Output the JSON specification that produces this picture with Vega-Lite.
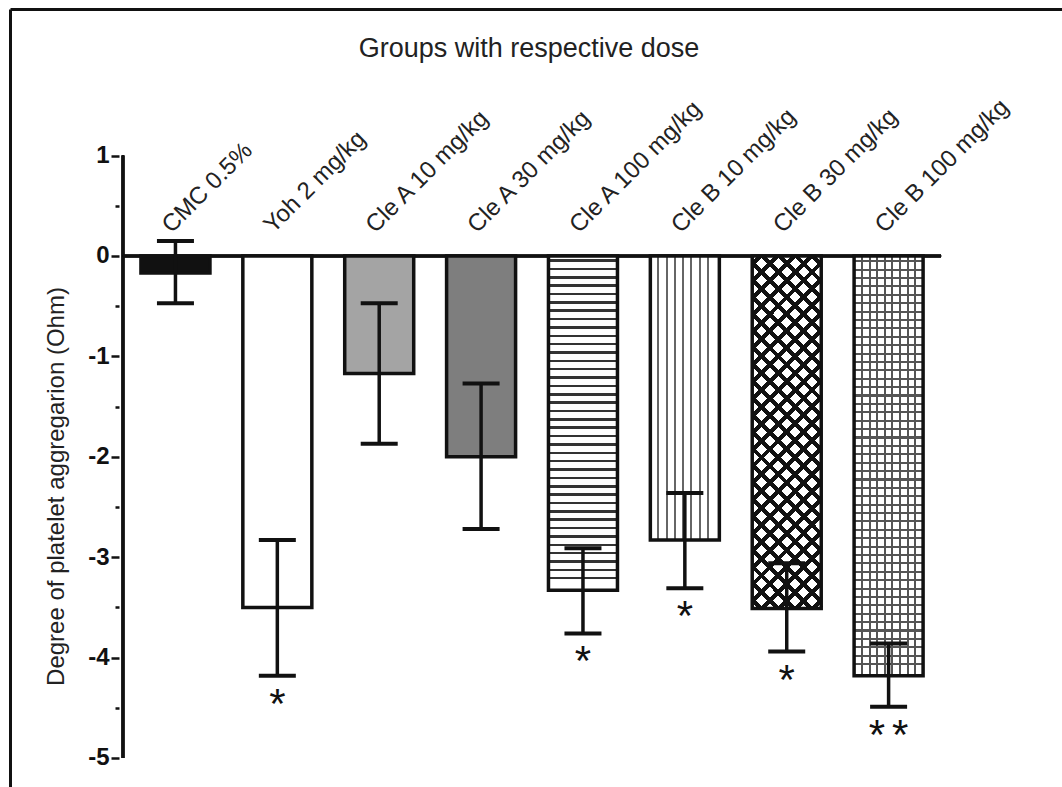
{
  "$schema": "https://vega.github.io/schema/vega-lite/v6.json",
  "width": 1052,
  "height": 778,
  "padding": {"left": 10, "top": 9, "right": 0, "bottom": 0},
  "autosize": {"type": "none"},
  "background": "white",
  "config": {"view": {"stroke": null}, "font": "Liberation Sans", "axis": {"grid": false}},
  "title": {"text": "Groups with respective dose", "fontSize": 27, "fontWeight": "normal", "color": "#222", "offset": -54, "anchor": "middle", "dx": -7, "font": "Liberation Sans"},
  "data": {"values": [
    {"group": "CMC 0.5%", "idx": 1, "mean": -0.17, "hi": 0.15, "lo": -0.47, "sig": ""},
    {"group": "Yoh 2 mg/kg", "idx": 2, "mean": -3.5, "hi": -2.83, "lo": -4.18, "sig": "*"},
    {"group": "Cle A 10 mg/kg", "idx": 3, "mean": -1.17, "hi": -0.47, "lo": -1.87, "sig": ""},
    {"group": "Cle A 30 mg/kg", "idx": 4, "mean": -2.0, "hi": -1.27, "lo": -2.72, "sig": ""},
    {"group": "Cle A 100 mg/kg", "idx": 5, "mean": -3.33, "hi": -2.91, "lo": -3.76, "sig": "*"},
    {"group": "Cle B 10 mg/kg", "idx": 6, "mean": -2.83, "hi": -2.36, "lo": -3.31, "sig": "*"},
    {"group": "Cle B 30 mg/kg", "idx": 7, "mean": -3.51, "hi": -3.06, "lo": -3.94, "sig": "*"},
    {"group": "Cle B 100 mg/kg", "idx": 8, "mean": -4.18, "hi": -3.86, "lo": -4.49, "sig": "*\u2006*"}
  ]},
  "resolve": {"axis": {"x": "independent", "y": "independent"}},
  "layer": [
    {
      "mark": {"type": "rule", "strokeWidth": 2.5, "color": "#111"},
      "encoding": {
        "x": {"datum": 0.485, "type": "quantitative", "scale": {"domain": [-0.575, 9.653], "nice": false, "zero": false},
              "axis": {"orient": "top", "domain": true, "domainWidth": 3, "domainColor": "#111", "ticks": false, "labels": false, "title": null, "grid": false}},
        "y": {"datum": 1, "type": "quantitative", "scale": {"domain": [-5.289, 2.46], "nice": false, "zero": false},
              "axis": {"orient": "left", "offset": -109, "domain": false, "grid": false,
                       "values": [-5, -4.5, -4, -3.5, -3, -2.5, -2, -1.5, -1, -0.5, 0, 0.5, 1],
                       "labelExpr": "datum.value % 1 == 0 ? '' + datum.value : ''",
                       "ticks": true, "tickColor": "#111", "tickWidth": 2.5,
                       "tickSize": {"condition": {"test": "datum.value % 1 == 0", "value": 8}, "value": 4},
                       "labelFontSize": 24, "labelFontWeight": "bold", "labelColor": "#111", "labelPadding": 2, "labelFont": "Liberation Sans",
                       "title": "Degree of platelet aggregarion (Ohm)", "titleFontSize": 24, "titleFontWeight": "normal", "titleColor": "#222", "titleFont": "Liberation Sans",
                       "titlePadding": 19, "titleY": 477}},
        "y2": {"datum": -5}
      }
    },
    {
      "mark": {"type": "rule", "strokeWidth": 2.5, "color": "#111"},
      "encoding": {
        "x": {"datum": 0.485, "type": "quantitative", "scale": {"domain": [-0.575, 9.653], "nice": false, "zero": false}, "axis": null},
        "x2": {"datum": 8.515},
        "y": {"datum": 0, "type": "quantitative", "scale": {"domain": [-5.289, 2.46], "nice": false, "zero": false},
              "axis": {"orient": "left", "offset": 0, "domain": true, "domainWidth": 3, "domainColor": "#111", "ticks": false, "labels": false, "title": null, "grid": false}}
      }
    },
    {
      "mark": {"type": "bar", "orient": "vertical", "width": 69, "strokeWidth": 0},
      "encoding": {
        "x": {"field": "idx", "type": "quantitative", "scale": {"domain": [-0.575, 9.653], "nice": false, "zero": false}, "axis": null},
        "y": {"field": "mean", "type": "quantitative", "scale": {"domain": [-5.289, 2.46], "nice": false, "zero": false}, "axis": null},
        "y2": {"datum": 0},
        "fill": {"field": "group", "type": "nominal", "legend": null,
                 "scale": {"domain": ["CMC 0.5%", "Yoh 2 mg/kg", "Cle A 10 mg/kg", "Cle A 30 mg/kg", "Cle A 100 mg/kg", "Cle B 10 mg/kg", "Cle B 30 mg/kg", "Cle B 100 mg/kg"],
                           "range": ["#111111", "#ffffff", "#a4a4a4", "#7e7e7e", "#ffffff", "#ffffff", "#ffffff", "#ffffff"]}}
      }
    },
    {
      "transform": [{"filter": "datum.idx == 5"}],
      "mark": {"type": "bar", "orient": "vertical", "width": 69, "strokeWidth": 0,
               "fill": {"gradient": "linear", "x1": 0, "y1": 0, "x2": 0, "y2": 1, "stops": [
                 {"offset": 0, "color": "#fff"},
                 {"offset": 0.01, "color": "#fff"}, {"offset": 0.01, "color": "#333"}, {"offset": 0.0175, "color": "#333"}, {"offset": 0.0175, "color": "#fff"},
                 {"offset": 0.035, "color": "#fff"}, {"offset": 0.035, "color": "#333"}, {"offset": 0.0425, "color": "#333"}, {"offset": 0.0425, "color": "#fff"},
                 {"offset": 0.06, "color": "#fff"}, {"offset": 0.06, "color": "#333"}, {"offset": 0.0675, "color": "#333"}, {"offset": 0.0675, "color": "#fff"},
                 {"offset": 0.085, "color": "#fff"}, {"offset": 0.085, "color": "#333"}, {"offset": 0.0925, "color": "#333"}, {"offset": 0.0925, "color": "#fff"},
                 {"offset": 0.11, "color": "#fff"}, {"offset": 0.11, "color": "#333"}, {"offset": 0.1175, "color": "#333"}, {"offset": 0.1175, "color": "#fff"},
                 {"offset": 0.135, "color": "#fff"}, {"offset": 0.135, "color": "#333"}, {"offset": 0.1425, "color": "#333"}, {"offset": 0.1425, "color": "#fff"},
                 {"offset": 0.16, "color": "#fff"}, {"offset": 0.16, "color": "#333"}, {"offset": 0.1675, "color": "#333"}, {"offset": 0.1675, "color": "#fff"},
                 {"offset": 0.185, "color": "#fff"}, {"offset": 0.185, "color": "#333"}, {"offset": 0.1925, "color": "#333"}, {"offset": 0.1925, "color": "#fff"},
                 {"offset": 0.21, "color": "#fff"}, {"offset": 0.21, "color": "#333"}, {"offset": 0.2175, "color": "#333"}, {"offset": 0.2175, "color": "#fff"},
                 {"offset": 0.235, "color": "#fff"}, {"offset": 0.235, "color": "#333"}, {"offset": 0.2425, "color": "#333"}, {"offset": 0.2425, "color": "#fff"},
                 {"offset": 0.26, "color": "#fff"}, {"offset": 0.26, "color": "#333"}, {"offset": 0.2675, "color": "#333"}, {"offset": 0.2675, "color": "#fff"},
                 {"offset": 0.285, "color": "#fff"}, {"offset": 0.285, "color": "#333"}, {"offset": 0.2925, "color": "#333"}, {"offset": 0.2925, "color": "#fff"},
                 {"offset": 0.31, "color": "#fff"}, {"offset": 0.31, "color": "#333"}, {"offset": 0.3175, "color": "#333"}, {"offset": 0.3175, "color": "#fff"},
                 {"offset": 0.335, "color": "#fff"}, {"offset": 0.335, "color": "#333"}, {"offset": 0.3425, "color": "#333"}, {"offset": 0.3425, "color": "#fff"},
                 {"offset": 0.36, "color": "#fff"}, {"offset": 0.36, "color": "#333"}, {"offset": 0.3675, "color": "#333"}, {"offset": 0.3675, "color": "#fff"},
                 {"offset": 0.385, "color": "#fff"}, {"offset": 0.385, "color": "#333"}, {"offset": 0.3925, "color": "#333"}, {"offset": 0.3925, "color": "#fff"},
                 {"offset": 0.41, "color": "#fff"}, {"offset": 0.41, "color": "#333"}, {"offset": 0.4175, "color": "#333"}, {"offset": 0.4175, "color": "#fff"},
                 {"offset": 0.435, "color": "#fff"}, {"offset": 0.435, "color": "#333"}, {"offset": 0.4425, "color": "#333"}, {"offset": 0.4425, "color": "#fff"},
                 {"offset": 0.46, "color": "#fff"}, {"offset": 0.46, "color": "#333"}, {"offset": 0.4675, "color": "#333"}, {"offset": 0.4675, "color": "#fff"},
                 {"offset": 0.485, "color": "#fff"}, {"offset": 0.485, "color": "#333"}, {"offset": 0.4925, "color": "#333"}, {"offset": 0.4925, "color": "#fff"},
                 {"offset": 0.51, "color": "#fff"}, {"offset": 0.51, "color": "#333"}, {"offset": 0.5175, "color": "#333"}, {"offset": 0.5175, "color": "#fff"},
                 {"offset": 0.535, "color": "#fff"}, {"offset": 0.535, "color": "#333"}, {"offset": 0.5425, "color": "#333"}, {"offset": 0.5425, "color": "#fff"},
                 {"offset": 0.56, "color": "#fff"}, {"offset": 0.56, "color": "#333"}, {"offset": 0.5675, "color": "#333"}, {"offset": 0.5675, "color": "#fff"},
                 {"offset": 0.585, "color": "#fff"}, {"offset": 0.585, "color": "#333"}, {"offset": 0.5925, "color": "#333"}, {"offset": 0.5925, "color": "#fff"},
                 {"offset": 0.61, "color": "#fff"}, {"offset": 0.61, "color": "#333"}, {"offset": 0.6175, "color": "#333"}, {"offset": 0.6175, "color": "#fff"},
                 {"offset": 0.635, "color": "#fff"}, {"offset": 0.635, "color": "#333"}, {"offset": 0.6425, "color": "#333"}, {"offset": 0.6425, "color": "#fff"},
                 {"offset": 0.66, "color": "#fff"}, {"offset": 0.66, "color": "#333"}, {"offset": 0.6675, "color": "#333"}, {"offset": 0.6675, "color": "#fff"},
                 {"offset": 0.685, "color": "#fff"}, {"offset": 0.685, "color": "#333"}, {"offset": 0.6925, "color": "#333"}, {"offset": 0.6925, "color": "#fff"},
                 {"offset": 0.71, "color": "#fff"}, {"offset": 0.71, "color": "#333"}, {"offset": 0.7175, "color": "#333"}, {"offset": 0.7175, "color": "#fff"},
                 {"offset": 0.735, "color": "#fff"}, {"offset": 0.735, "color": "#333"}, {"offset": 0.7425, "color": "#333"}, {"offset": 0.7425, "color": "#fff"},
                 {"offset": 0.76, "color": "#fff"}, {"offset": 0.76, "color": "#333"}, {"offset": 0.7675, "color": "#333"}, {"offset": 0.7675, "color": "#fff"},
                 {"offset": 0.785, "color": "#fff"}, {"offset": 0.785, "color": "#333"}, {"offset": 0.7925, "color": "#333"}, {"offset": 0.7925, "color": "#fff"},
                 {"offset": 0.81, "color": "#fff"}, {"offset": 0.81, "color": "#333"}, {"offset": 0.8175, "color": "#333"}, {"offset": 0.8175, "color": "#fff"},
                 {"offset": 0.835, "color": "#fff"}, {"offset": 0.835, "color": "#333"}, {"offset": 0.8425, "color": "#333"}, {"offset": 0.8425, "color": "#fff"},
                 {"offset": 0.86, "color": "#fff"}, {"offset": 0.86, "color": "#333"}, {"offset": 0.8675, "color": "#333"}, {"offset": 0.8675, "color": "#fff"},
                 {"offset": 0.885, "color": "#fff"}, {"offset": 0.885, "color": "#333"}, {"offset": 0.8925, "color": "#333"}, {"offset": 0.8925, "color": "#fff"},
                 {"offset": 0.91, "color": "#fff"}, {"offset": 0.91, "color": "#333"}, {"offset": 0.9175, "color": "#333"}, {"offset": 0.9175, "color": "#fff"},
                 {"offset": 0.935, "color": "#fff"}, {"offset": 0.935, "color": "#333"}, {"offset": 0.9425, "color": "#333"}, {"offset": 0.9425, "color": "#fff"},
                 {"offset": 0.96, "color": "#fff"}, {"offset": 0.96, "color": "#333"}, {"offset": 0.9675, "color": "#333"}, {"offset": 0.9675, "color": "#fff"},
                 {"offset": 1, "color": "#fff"}
               ]}},
      "encoding": {
        "x": {"field": "idx", "type": "quantitative", "scale": {"domain": [-0.575, 9.653], "nice": false, "zero": false}, "axis": null},
        "y": {"field": "mean", "type": "quantitative", "scale": {"domain": [-5.289, 2.46], "nice": false, "zero": false}, "axis": null},
        "y2": {"datum": 0}
      }
    },
    {
      "transform": [{"filter": "datum.idx == 6"}],
      "mark": {"type": "bar", "orient": "vertical", "width": 69, "strokeWidth": 0,
               "fill": {"gradient": "linear", "x1": 0, "y1": 0, "x2": 1, "y2": 0, "stops": [
                 {"offset": 0, "color": "#fff"},
                 {"offset": 0.1, "color": "#fff"}, {"offset": 0.1, "color": "#666"}, {"offset": 0.13, "color": "#666"}, {"offset": 0.13, "color": "#fff"},
                 {"offset": 0.22, "color": "#fff"}, {"offset": 0.22, "color": "#666"}, {"offset": 0.25, "color": "#666"}, {"offset": 0.25, "color": "#fff"},
                 {"offset": 0.34, "color": "#fff"}, {"offset": 0.34, "color": "#666"}, {"offset": 0.37, "color": "#666"}, {"offset": 0.37, "color": "#fff"},
                 {"offset": 0.46, "color": "#fff"}, {"offset": 0.46, "color": "#666"}, {"offset": 0.49, "color": "#666"}, {"offset": 0.49, "color": "#fff"},
                 {"offset": 0.58, "color": "#fff"}, {"offset": 0.58, "color": "#666"}, {"offset": 0.61, "color": "#666"}, {"offset": 0.61, "color": "#fff"},
                 {"offset": 0.7, "color": "#fff"}, {"offset": 0.7, "color": "#666"}, {"offset": 0.73, "color": "#666"}, {"offset": 0.73, "color": "#fff"},
                 {"offset": 0.82, "color": "#fff"}, {"offset": 0.82, "color": "#666"}, {"offset": 0.85, "color": "#666"}, {"offset": 0.85, "color": "#fff"},
                 {"offset": 1, "color": "#fff"}
               ]}},
      "encoding": {
        "x": {"field": "idx", "type": "quantitative", "scale": {"domain": [-0.575, 9.653], "nice": false, "zero": false}, "axis": null},
        "y": {"field": "mean", "type": "quantitative", "scale": {"domain": [-5.289, 2.46], "nice": false, "zero": false}, "axis": null},
        "y2": {"datum": 0}
      }
    },
    {
      "transform": [{"filter": "datum.idx == 7"}],
      "mark": {"type": "bar", "orient": "vertical", "width": 69, "strokeWidth": 0,
               "fill": {"gradient": "linear", "x1": 0, "y1": 1, "x2": 0.226, "y2": -0.152, "stops": [
                 {"offset": 0, "color": "#fff"},
                 {"offset": 0.013, "color": "#fff"}, {"offset": 0.013, "color": "#111"}, {"offset": 0.027, "color": "#111"}, {"offset": 0.027, "color": "#fff"},
                 {"offset": 0.053, "color": "#fff"}, {"offset": 0.053, "color": "#111"}, {"offset": 0.067, "color": "#111"}, {"offset": 0.067, "color": "#fff"},
                 {"offset": 0.093, "color": "#fff"}, {"offset": 0.093, "color": "#111"}, {"offset": 0.107, "color": "#111"}, {"offset": 0.107, "color": "#fff"},
                 {"offset": 0.133, "color": "#fff"}, {"offset": 0.133, "color": "#111"}, {"offset": 0.147, "color": "#111"}, {"offset": 0.147, "color": "#fff"},
                 {"offset": 0.173, "color": "#fff"}, {"offset": 0.173, "color": "#111"}, {"offset": 0.187, "color": "#111"}, {"offset": 0.187, "color": "#fff"},
                 {"offset": 0.213, "color": "#fff"}, {"offset": 0.213, "color": "#111"}, {"offset": 0.227, "color": "#111"}, {"offset": 0.227, "color": "#fff"},
                 {"offset": 0.253, "color": "#fff"}, {"offset": 0.253, "color": "#111"}, {"offset": 0.267, "color": "#111"}, {"offset": 0.267, "color": "#fff"},
                 {"offset": 0.293, "color": "#fff"}, {"offset": 0.293, "color": "#111"}, {"offset": 0.307, "color": "#111"}, {"offset": 0.307, "color": "#fff"},
                 {"offset": 0.333, "color": "#fff"}, {"offset": 0.333, "color": "#111"}, {"offset": 0.347, "color": "#111"}, {"offset": 0.347, "color": "#fff"},
                 {"offset": 0.373, "color": "#fff"}, {"offset": 0.373, "color": "#111"}, {"offset": 0.387, "color": "#111"}, {"offset": 0.387, "color": "#fff"},
                 {"offset": 0.413, "color": "#fff"}, {"offset": 0.413, "color": "#111"}, {"offset": 0.427, "color": "#111"}, {"offset": 0.427, "color": "#fff"},
                 {"offset": 0.453, "color": "#fff"}, {"offset": 0.453, "color": "#111"}, {"offset": 0.467, "color": "#111"}, {"offset": 0.467, "color": "#fff"},
                 {"offset": 0.493, "color": "#fff"}, {"offset": 0.493, "color": "#111"}, {"offset": 0.507, "color": "#111"}, {"offset": 0.507, "color": "#fff"},
                 {"offset": 0.533, "color": "#fff"}, {"offset": 0.533, "color": "#111"}, {"offset": 0.547, "color": "#111"}, {"offset": 0.547, "color": "#fff"},
                 {"offset": 0.573, "color": "#fff"}, {"offset": 0.573, "color": "#111"}, {"offset": 0.587, "color": "#111"}, {"offset": 0.587, "color": "#fff"},
                 {"offset": 0.613, "color": "#fff"}, {"offset": 0.613, "color": "#111"}, {"offset": 0.627, "color": "#111"}, {"offset": 0.627, "color": "#fff"},
                 {"offset": 0.653, "color": "#fff"}, {"offset": 0.653, "color": "#111"}, {"offset": 0.667, "color": "#111"}, {"offset": 0.667, "color": "#fff"},
                 {"offset": 0.693, "color": "#fff"}, {"offset": 0.693, "color": "#111"}, {"offset": 0.707, "color": "#111"}, {"offset": 0.707, "color": "#fff"},
                 {"offset": 0.733, "color": "#fff"}, {"offset": 0.733, "color": "#111"}, {"offset": 0.747, "color": "#111"}, {"offset": 0.747, "color": "#fff"},
                 {"offset": 0.773, "color": "#fff"}, {"offset": 0.773, "color": "#111"}, {"offset": 0.787, "color": "#111"}, {"offset": 0.787, "color": "#fff"},
                 {"offset": 0.813, "color": "#fff"}, {"offset": 0.813, "color": "#111"}, {"offset": 0.827, "color": "#111"}, {"offset": 0.827, "color": "#fff"},
                 {"offset": 0.853, "color": "#fff"}, {"offset": 0.853, "color": "#111"}, {"offset": 0.867, "color": "#111"}, {"offset": 0.867, "color": "#fff"},
                 {"offset": 0.893, "color": "#fff"}, {"offset": 0.893, "color": "#111"}, {"offset": 0.907, "color": "#111"}, {"offset": 0.907, "color": "#fff"},
                 {"offset": 0.933, "color": "#fff"}, {"offset": 0.933, "color": "#111"}, {"offset": 0.947, "color": "#111"}, {"offset": 0.947, "color": "#fff"},
                 {"offset": 0.973, "color": "#fff"}, {"offset": 0.973, "color": "#111"}, {"offset": 0.987, "color": "#111"}, {"offset": 0.987, "color": "#fff"},
                 {"offset": 1, "color": "#fff"}
               ]}},
      "encoding": {
        "x": {"field": "idx", "type": "quantitative", "scale": {"domain": [-0.575, 9.653], "nice": false, "zero": false}, "axis": null},
        "y": {"field": "mean", "type": "quantitative", "scale": {"domain": [-5.289, 2.46], "nice": false, "zero": false}, "axis": null},
        "y2": {"datum": 0}
      }
    },
    {
      "transform": [{"filter": "datum.idx == 7"}],
      "mark": {"type": "bar", "orient": "vertical", "width": 69, "strokeWidth": 0,
               "fill": {"gradient": "linear", "x1": 0, "y1": 0, "x2": 0.226, "y2": 1.152, "stops": [
                 {"offset": 0, "color": "rgba(0,0,0,0)"},
                 {"offset": 0.013, "color": "rgba(0,0,0,0)"}, {"offset": 0.013, "color": "#111"}, {"offset": 0.027, "color": "#111"}, {"offset": 0.027, "color": "rgba(0,0,0,0)"},
                 {"offset": 0.053, "color": "rgba(0,0,0,0)"}, {"offset": 0.053, "color": "#111"}, {"offset": 0.067, "color": "#111"}, {"offset": 0.067, "color": "rgba(0,0,0,0)"},
                 {"offset": 0.093, "color": "rgba(0,0,0,0)"}, {"offset": 0.093, "color": "#111"}, {"offset": 0.107, "color": "#111"}, {"offset": 0.107, "color": "rgba(0,0,0,0)"},
                 {"offset": 0.133, "color": "rgba(0,0,0,0)"}, {"offset": 0.133, "color": "#111"}, {"offset": 0.147, "color": "#111"}, {"offset": 0.147, "color": "rgba(0,0,0,0)"},
                 {"offset": 0.173, "color": "rgba(0,0,0,0)"}, {"offset": 0.173, "color": "#111"}, {"offset": 0.187, "color": "#111"}, {"offset": 0.187, "color": "rgba(0,0,0,0)"},
                 {"offset": 0.213, "color": "rgba(0,0,0,0)"}, {"offset": 0.213, "color": "#111"}, {"offset": 0.227, "color": "#111"}, {"offset": 0.227, "color": "rgba(0,0,0,0)"},
                 {"offset": 0.253, "color": "rgba(0,0,0,0)"}, {"offset": 0.253, "color": "#111"}, {"offset": 0.267, "color": "#111"}, {"offset": 0.267, "color": "rgba(0,0,0,0)"},
                 {"offset": 0.293, "color": "rgba(0,0,0,0)"}, {"offset": 0.293, "color": "#111"}, {"offset": 0.307, "color": "#111"}, {"offset": 0.307, "color": "rgba(0,0,0,0)"},
                 {"offset": 0.333, "color": "rgba(0,0,0,0)"}, {"offset": 0.333, "color": "#111"}, {"offset": 0.347, "color": "#111"}, {"offset": 0.347, "color": "rgba(0,0,0,0)"},
                 {"offset": 0.373, "color": "rgba(0,0,0,0)"}, {"offset": 0.373, "color": "#111"}, {"offset": 0.387, "color": "#111"}, {"offset": 0.387, "color": "rgba(0,0,0,0)"},
                 {"offset": 0.413, "color": "rgba(0,0,0,0)"}, {"offset": 0.413, "color": "#111"}, {"offset": 0.427, "color": "#111"}, {"offset": 0.427, "color": "rgba(0,0,0,0)"},
                 {"offset": 0.453, "color": "rgba(0,0,0,0)"}, {"offset": 0.453, "color": "#111"}, {"offset": 0.467, "color": "#111"}, {"offset": 0.467, "color": "rgba(0,0,0,0)"},
                 {"offset": 0.493, "color": "rgba(0,0,0,0)"}, {"offset": 0.493, "color": "#111"}, {"offset": 0.507, "color": "#111"}, {"offset": 0.507, "color": "rgba(0,0,0,0)"},
                 {"offset": 0.533, "color": "rgba(0,0,0,0)"}, {"offset": 0.533, "color": "#111"}, {"offset": 0.547, "color": "#111"}, {"offset": 0.547, "color": "rgba(0,0,0,0)"},
                 {"offset": 0.573, "color": "rgba(0,0,0,0)"}, {"offset": 0.573, "color": "#111"}, {"offset": 0.587, "color": "#111"}, {"offset": 0.587, "color": "rgba(0,0,0,0)"},
                 {"offset": 0.613, "color": "rgba(0,0,0,0)"}, {"offset": 0.613, "color": "#111"}, {"offset": 0.627, "color": "#111"}, {"offset": 0.627, "color": "rgba(0,0,0,0)"},
                 {"offset": 0.653, "color": "rgba(0,0,0,0)"}, {"offset": 0.653, "color": "#111"}, {"offset": 0.667, "color": "#111"}, {"offset": 0.667, "color": "rgba(0,0,0,0)"},
                 {"offset": 0.693, "color": "rgba(0,0,0,0)"}, {"offset": 0.693, "color": "#111"}, {"offset": 0.707, "color": "#111"}, {"offset": 0.707, "color": "rgba(0,0,0,0)"},
                 {"offset": 0.733, "color": "rgba(0,0,0,0)"}, {"offset": 0.733, "color": "#111"}, {"offset": 0.747, "color": "#111"}, {"offset": 0.747, "color": "rgba(0,0,0,0)"},
                 {"offset": 0.773, "color": "rgba(0,0,0,0)"}, {"offset": 0.773, "color": "#111"}, {"offset": 0.787, "color": "#111"}, {"offset": 0.787, "color": "rgba(0,0,0,0)"},
                 {"offset": 0.813, "color": "rgba(0,0,0,0)"}, {"offset": 0.813, "color": "#111"}, {"offset": 0.827, "color": "#111"}, {"offset": 0.827, "color": "rgba(0,0,0,0)"},
                 {"offset": 0.853, "color": "rgba(0,0,0,0)"}, {"offset": 0.853, "color": "#111"}, {"offset": 0.867, "color": "#111"}, {"offset": 0.867, "color": "rgba(0,0,0,0)"},
                 {"offset": 0.893, "color": "rgba(0,0,0,0)"}, {"offset": 0.893, "color": "#111"}, {"offset": 0.907, "color": "#111"}, {"offset": 0.907, "color": "rgba(0,0,0,0)"},
                 {"offset": 0.933, "color": "rgba(0,0,0,0)"}, {"offset": 0.933, "color": "#111"}, {"offset": 0.947, "color": "#111"}, {"offset": 0.947, "color": "rgba(0,0,0,0)"},
                 {"offset": 0.973, "color": "rgba(0,0,0,0)"}, {"offset": 0.973, "color": "#111"}, {"offset": 0.987, "color": "#111"}, {"offset": 0.987, "color": "rgba(0,0,0,0)"},
                 {"offset": 1, "color": "rgba(0,0,0,0)"}
               ]}},
      "encoding": {
        "x": {"field": "idx", "type": "quantitative", "scale": {"domain": [-0.575, 9.653], "nice": false, "zero": false}, "axis": null},
        "y": {"field": "mean", "type": "quantitative", "scale": {"domain": [-5.289, 2.46], "nice": false, "zero": false}, "axis": null},
        "y2": {"datum": 0}
      }
    },
    {
      "transform": [{"filter": "datum.idx == 8"}],
      "mark": {"type": "bar", "orient": "vertical", "width": 69, "strokeWidth": 0,
               "fill": {"gradient": "linear", "x1": 0, "y1": 0, "x2": 0, "y2": 1, "stops": [
                 {"offset": 0, "color": "#fff"},
                 {"offset": 0.01, "color": "#fff"}, {"offset": 0.01, "color": "#555"}, {"offset": 0.015, "color": "#555"}, {"offset": 0.015, "color": "#fff"},
                 {"offset": 0.03, "color": "#fff"}, {"offset": 0.03, "color": "#555"}, {"offset": 0.035, "color": "#555"}, {"offset": 0.035, "color": "#fff"},
                 {"offset": 0.05, "color": "#fff"}, {"offset": 0.05, "color": "#555"}, {"offset": 0.055, "color": "#555"}, {"offset": 0.055, "color": "#fff"},
                 {"offset": 0.07, "color": "#fff"}, {"offset": 0.07, "color": "#555"}, {"offset": 0.075, "color": "#555"}, {"offset": 0.075, "color": "#fff"},
                 {"offset": 0.09, "color": "#fff"}, {"offset": 0.09, "color": "#555"}, {"offset": 0.095, "color": "#555"}, {"offset": 0.095, "color": "#fff"},
                 {"offset": 0.11, "color": "#fff"}, {"offset": 0.11, "color": "#555"}, {"offset": 0.115, "color": "#555"}, {"offset": 0.115, "color": "#fff"},
                 {"offset": 0.13, "color": "#fff"}, {"offset": 0.13, "color": "#555"}, {"offset": 0.135, "color": "#555"}, {"offset": 0.135, "color": "#fff"},
                 {"offset": 0.15, "color": "#fff"}, {"offset": 0.15, "color": "#555"}, {"offset": 0.155, "color": "#555"}, {"offset": 0.155, "color": "#fff"},
                 {"offset": 0.17, "color": "#fff"}, {"offset": 0.17, "color": "#555"}, {"offset": 0.175, "color": "#555"}, {"offset": 0.175, "color": "#fff"},
                 {"offset": 0.19, "color": "#fff"}, {"offset": 0.19, "color": "#555"}, {"offset": 0.195, "color": "#555"}, {"offset": 0.195, "color": "#fff"},
                 {"offset": 0.21, "color": "#fff"}, {"offset": 0.21, "color": "#555"}, {"offset": 0.215, "color": "#555"}, {"offset": 0.215, "color": "#fff"},
                 {"offset": 0.23, "color": "#fff"}, {"offset": 0.23, "color": "#555"}, {"offset": 0.235, "color": "#555"}, {"offset": 0.235, "color": "#fff"},
                 {"offset": 0.25, "color": "#fff"}, {"offset": 0.25, "color": "#555"}, {"offset": 0.255, "color": "#555"}, {"offset": 0.255, "color": "#fff"},
                 {"offset": 0.27, "color": "#fff"}, {"offset": 0.27, "color": "#555"}, {"offset": 0.275, "color": "#555"}, {"offset": 0.275, "color": "#fff"},
                 {"offset": 0.29, "color": "#fff"}, {"offset": 0.29, "color": "#555"}, {"offset": 0.295, "color": "#555"}, {"offset": 0.295, "color": "#fff"},
                 {"offset": 0.31, "color": "#fff"}, {"offset": 0.31, "color": "#555"}, {"offset": 0.315, "color": "#555"}, {"offset": 0.315, "color": "#fff"},
                 {"offset": 0.33, "color": "#fff"}, {"offset": 0.33, "color": "#555"}, {"offset": 0.335, "color": "#555"}, {"offset": 0.335, "color": "#fff"},
                 {"offset": 0.35, "color": "#fff"}, {"offset": 0.35, "color": "#555"}, {"offset": 0.355, "color": "#555"}, {"offset": 0.355, "color": "#fff"},
                 {"offset": 0.37, "color": "#fff"}, {"offset": 0.37, "color": "#555"}, {"offset": 0.375, "color": "#555"}, {"offset": 0.375, "color": "#fff"},
                 {"offset": 0.39, "color": "#fff"}, {"offset": 0.39, "color": "#555"}, {"offset": 0.395, "color": "#555"}, {"offset": 0.395, "color": "#fff"},
                 {"offset": 0.41, "color": "#fff"}, {"offset": 0.41, "color": "#555"}, {"offset": 0.415, "color": "#555"}, {"offset": 0.415, "color": "#fff"},
                 {"offset": 0.43, "color": "#fff"}, {"offset": 0.43, "color": "#555"}, {"offset": 0.435, "color": "#555"}, {"offset": 0.435, "color": "#fff"},
                 {"offset": 0.45, "color": "#fff"}, {"offset": 0.45, "color": "#555"}, {"offset": 0.455, "color": "#555"}, {"offset": 0.455, "color": "#fff"},
                 {"offset": 0.47, "color": "#fff"}, {"offset": 0.47, "color": "#555"}, {"offset": 0.475, "color": "#555"}, {"offset": 0.475, "color": "#fff"},
                 {"offset": 0.49, "color": "#fff"}, {"offset": 0.49, "color": "#555"}, {"offset": 0.495, "color": "#555"}, {"offset": 0.495, "color": "#fff"},
                 {"offset": 0.51, "color": "#fff"}, {"offset": 0.51, "color": "#555"}, {"offset": 0.515, "color": "#555"}, {"offset": 0.515, "color": "#fff"},
                 {"offset": 0.53, "color": "#fff"}, {"offset": 0.53, "color": "#555"}, {"offset": 0.535, "color": "#555"}, {"offset": 0.535, "color": "#fff"},
                 {"offset": 0.55, "color": "#fff"}, {"offset": 0.55, "color": "#555"}, {"offset": 0.555, "color": "#555"}, {"offset": 0.555, "color": "#fff"},
                 {"offset": 0.57, "color": "#fff"}, {"offset": 0.57, "color": "#555"}, {"offset": 0.575, "color": "#555"}, {"offset": 0.575, "color": "#fff"},
                 {"offset": 0.59, "color": "#fff"}, {"offset": 0.59, "color": "#555"}, {"offset": 0.595, "color": "#555"}, {"offset": 0.595, "color": "#fff"},
                 {"offset": 0.61, "color": "#fff"}, {"offset": 0.61, "color": "#555"}, {"offset": 0.615, "color": "#555"}, {"offset": 0.615, "color": "#fff"},
                 {"offset": 0.63, "color": "#fff"}, {"offset": 0.63, "color": "#555"}, {"offset": 0.635, "color": "#555"}, {"offset": 0.635, "color": "#fff"},
                 {"offset": 0.65, "color": "#fff"}, {"offset": 0.65, "color": "#555"}, {"offset": 0.655, "color": "#555"}, {"offset": 0.655, "color": "#fff"},
                 {"offset": 0.67, "color": "#fff"}, {"offset": 0.67, "color": "#555"}, {"offset": 0.675, "color": "#555"}, {"offset": 0.675, "color": "#fff"},
                 {"offset": 0.69, "color": "#fff"}, {"offset": 0.69, "color": "#555"}, {"offset": 0.695, "color": "#555"}, {"offset": 0.695, "color": "#fff"},
                 {"offset": 0.71, "color": "#fff"}, {"offset": 0.71, "color": "#555"}, {"offset": 0.715, "color": "#555"}, {"offset": 0.715, "color": "#fff"},
                 {"offset": 0.73, "color": "#fff"}, {"offset": 0.73, "color": "#555"}, {"offset": 0.735, "color": "#555"}, {"offset": 0.735, "color": "#fff"},
                 {"offset": 0.75, "color": "#fff"}, {"offset": 0.75, "color": "#555"}, {"offset": 0.755, "color": "#555"}, {"offset": 0.755, "color": "#fff"},
                 {"offset": 0.77, "color": "#fff"}, {"offset": 0.77, "color": "#555"}, {"offset": 0.775, "color": "#555"}, {"offset": 0.775, "color": "#fff"},
                 {"offset": 0.79, "color": "#fff"}, {"offset": 0.79, "color": "#555"}, {"offset": 0.795, "color": "#555"}, {"offset": 0.795, "color": "#fff"},
                 {"offset": 0.81, "color": "#fff"}, {"offset": 0.81, "color": "#555"}, {"offset": 0.815, "color": "#555"}, {"offset": 0.815, "color": "#fff"},
                 {"offset": 0.83, "color": "#fff"}, {"offset": 0.83, "color": "#555"}, {"offset": 0.835, "color": "#555"}, {"offset": 0.835, "color": "#fff"},
                 {"offset": 0.85, "color": "#fff"}, {"offset": 0.85, "color": "#555"}, {"offset": 0.855, "color": "#555"}, {"offset": 0.855, "color": "#fff"},
                 {"offset": 0.87, "color": "#fff"}, {"offset": 0.87, "color": "#555"}, {"offset": 0.875, "color": "#555"}, {"offset": 0.875, "color": "#fff"},
                 {"offset": 0.89, "color": "#fff"}, {"offset": 0.89, "color": "#555"}, {"offset": 0.895, "color": "#555"}, {"offset": 0.895, "color": "#fff"},
                 {"offset": 0.91, "color": "#fff"}, {"offset": 0.91, "color": "#555"}, {"offset": 0.915, "color": "#555"}, {"offset": 0.915, "color": "#fff"},
                 {"offset": 0.93, "color": "#fff"}, {"offset": 0.93, "color": "#555"}, {"offset": 0.935, "color": "#555"}, {"offset": 0.935, "color": "#fff"},
                 {"offset": 0.95, "color": "#fff"}, {"offset": 0.95, "color": "#555"}, {"offset": 0.955, "color": "#555"}, {"offset": 0.955, "color": "#fff"},
                 {"offset": 0.97, "color": "#fff"}, {"offset": 0.97, "color": "#555"}, {"offset": 0.975, "color": "#555"}, {"offset": 0.975, "color": "#fff"},
                 {"offset": 1, "color": "#fff"}
               ]}},
      "encoding": {
        "x": {"field": "idx", "type": "quantitative", "scale": {"domain": [-0.575, 9.653], "nice": false, "zero": false}, "axis": null},
        "y": {"field": "mean", "type": "quantitative", "scale": {"domain": [-5.289, 2.46], "nice": false, "zero": false}, "axis": null},
        "y2": {"datum": 0}
      }
    },
    {
      "transform": [{"filter": "datum.idx == 8"}],
      "mark": {"type": "bar", "orient": "vertical", "width": 69, "strokeWidth": 0,
               "fill": {"gradient": "linear", "x1": 0, "y1": 0, "x2": 1, "y2": 0, "stops": [
                 {"offset": 0, "color": "rgba(0,0,0,0)"},
                 {"offset": 0.1, "color": "rgba(0,0,0,0)"}, {"offset": 0.1, "color": "#555"}, {"offset": 0.13, "color": "#555"}, {"offset": 0.13, "color": "rgba(0,0,0,0)"},
                 {"offset": 0.21, "color": "rgba(0,0,0,0)"}, {"offset": 0.21, "color": "#555"}, {"offset": 0.24, "color": "#555"}, {"offset": 0.24, "color": "rgba(0,0,0,0)"},
                 {"offset": 0.32, "color": "rgba(0,0,0,0)"}, {"offset": 0.32, "color": "#555"}, {"offset": 0.35, "color": "#555"}, {"offset": 0.35, "color": "rgba(0,0,0,0)"},
                 {"offset": 0.43, "color": "rgba(0,0,0,0)"}, {"offset": 0.43, "color": "#555"}, {"offset": 0.46, "color": "#555"}, {"offset": 0.46, "color": "rgba(0,0,0,0)"},
                 {"offset": 0.54, "color": "rgba(0,0,0,0)"}, {"offset": 0.54, "color": "#555"}, {"offset": 0.57, "color": "#555"}, {"offset": 0.57, "color": "rgba(0,0,0,0)"},
                 {"offset": 0.65, "color": "rgba(0,0,0,0)"}, {"offset": 0.65, "color": "#555"}, {"offset": 0.68, "color": "#555"}, {"offset": 0.68, "color": "rgba(0,0,0,0)"},
                 {"offset": 0.76, "color": "rgba(0,0,0,0)"}, {"offset": 0.76, "color": "#555"}, {"offset": 0.79, "color": "#555"}, {"offset": 0.79, "color": "rgba(0,0,0,0)"},
                 {"offset": 0.87, "color": "rgba(0,0,0,0)"}, {"offset": 0.87, "color": "#555"}, {"offset": 0.9, "color": "#555"}, {"offset": 0.9, "color": "rgba(0,0,0,0)"},
                 {"offset": 1, "color": "rgba(0,0,0,0)"}
               ]}},
      "encoding": {
        "x": {"field": "idx", "type": "quantitative", "scale": {"domain": [-0.575, 9.653], "nice": false, "zero": false}, "axis": null},
        "y": {"field": "mean", "type": "quantitative", "scale": {"domain": [-5.289, 2.46], "nice": false, "zero": false}, "axis": null},
        "y2": {"datum": 0}
      }
    },
    {
      "mark": {"type": "bar", "orient": "vertical", "width": 69, "stroke": "#111", "strokeWidth": 3.5, "fillOpacity": 0},
      "encoding": {
        "x": {"field": "idx", "type": "quantitative", "scale": {"domain": [-0.575, 9.653], "nice": false, "zero": false}, "axis": null},
        "y": {"field": "mean", "type": "quantitative", "scale": {"domain": [-5.289, 2.46], "nice": false, "zero": false}, "axis": null},
        "y2": {"datum": 0}
      }
    },
    {
      "mark": {"type": "rule", "strokeWidth": 3.5, "color": "#111"},
      "encoding": {
        "x": {"field": "idx", "type": "quantitative", "scale": {"domain": [-0.575, 9.653], "nice": false, "zero": false}, "axis": null},
        "y": {"field": "lo", "type": "quantitative", "scale": {"domain": [-5.289, 2.46], "nice": false, "zero": false}, "axis": null},
        "y2": {"field": "hi"}
      }
    },
    {
      "mark": {"type": "tick", "orient": "horizontal", "size": 37, "thickness": 4, "color": "#111", "opacity": 1},
      "encoding": {
        "x": {"field": "idx", "type": "quantitative", "scale": {"domain": [-0.575, 9.653], "nice": false, "zero": false}, "axis": null},
        "y": {"field": "hi", "type": "quantitative", "scale": {"domain": [-5.289, 2.46], "nice": false, "zero": false}, "axis": null}
      }
    },
    {
      "mark": {"type": "tick", "orient": "horizontal", "size": 37, "thickness": 4, "color": "#111", "opacity": 1},
      "encoding": {
        "x": {"field": "idx", "type": "quantitative", "scale": {"domain": [-0.575, 9.653], "nice": false, "zero": false}, "axis": null},
        "y": {"field": "lo", "type": "quantitative", "scale": {"domain": [-5.289, 2.46], "nice": false, "zero": false}, "axis": null}
      }
    },
    {
      "mark": {"type": "text", "fontSize": 42, "color": "#111", "align": "center", "baseline": "alphabetic", "dy": 42, "font": "Liberation Sans"},
      "encoding": {
        "x": {"field": "idx", "type": "quantitative", "scale": {"domain": [-0.575, 9.653], "nice": false, "zero": false}, "axis": null},
        "y": {"field": "lo", "type": "quantitative", "scale": {"domain": [-5.289, 2.46], "nice": false, "zero": false}, "axis": null},
        "text": {"field": "sig"}
      }
    },
    {
      "mark": {"type": "text", "fontSize": 24, "color": "#222", "align": "left", "baseline": "alphabetic", "angle": 315, "dx": 12.7, "dy": -18.4, "font": "Liberation Sans"},
      "encoding": {
        "x": {"field": "idx", "type": "quantitative", "scale": {"domain": [-0.575, 9.653], "nice": false, "zero": false}, "axis": null},
        "y": {"datum": 0, "type": "quantitative", "scale": {"domain": [-5.289, 2.46], "nice": false, "zero": false}, "axis": null},
        "text": {"field": "group"}
      }
    }
  ]
}
